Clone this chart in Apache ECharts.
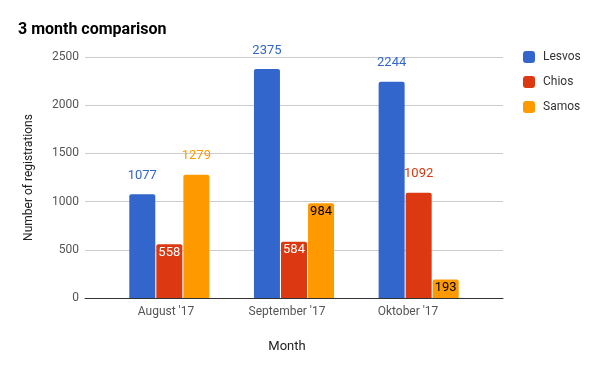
<!DOCTYPE html>
<html><head><meta charset="utf-8">
<script src="https://cdn.jsdelivr.net/npm/echarts@6/dist/echarts.min.js"></script>
<style>html,body{margin:0;padding:0;background:#fff}#c{width:600px;height:371px}</style>
</head><body><div id="c"></div>
<script>
const categories = ["August '17", "September '17", "Oktober '17"];
const lesvos = [1077, 2375, 2244];
const chios = [558, 584, 1092];
const samos = [1279, 984, 193];
const yTicks = [0, 500, 1000, 1500, 2000, 2500];
// label placement per value: true = inside bar top
const chiosInside = [true, true, false];
const samosInside = [false, true, true];

const colors = ['#3366cc', '#dc3912', '#ff9900'];
const FONT = 'Roboto';

function mkData(vals, insideFlags, color, insideColor) {
  return vals.map((v, i) => {
    const inside = insideFlags ? insideFlags[i] : false;
    return {
      value: v,
      label: inside
        ? { position: 'insideTop', distance: 2, color: insideColor }
        : { position: 'top', distance: 12, color: color }
    };
  });
}

const chart = echarts.init(document.getElementById('c'));
const barCommon = {
  type: 'bar', xAxisIndex: 1, yAxisIndex: 1,
  barWidth: 26, barGap: '4%',
  label: { show: true, fontFamily: FONT, fontSize: 13 }
};
chart.setOption({
  animation: false,
  textStyle: { fontFamily: FONT },
  title: {
    text: '3 month comparison', left: 13, top: 17,
    textStyle: { fontFamily: FONT, fontSize: 16, fontWeight: 'bold', color: '#000' }
  },
  legend: {
    orient: 'vertical', left: 523, top: 51, padding: 0,
    itemWidth: 12, itemHeight: 12, itemGap: 13,
    icon: 'roundRect',
    textStyle: { fontFamily: FONT, fontSize: 12, color: '#333', padding: [0, 0, 0, 3] },
    data: ['Lesvos', 'Chios', 'Samos']
  },
  grid: [
    { left: 85, right: 97, top: 57, bottom: 73 },
    { left: 107, right: 119, top: 57, bottom: 73 },
    { left: 105.5, right: 131.5, top: 57, bottom: 73 }
  ],
  xAxis: [
    { gridIndex: 0, type: 'category', data: [''],
      axisLine: { show: true, lineStyle: { color: '#333', width: 1 } },
      axisTick: { show: false }, axisLabel: { show: false }, splitLine: { show: false } },
    { gridIndex: 1, type: 'category', data: categories,
      axisLine: { show: false }, axisTick: { show: false }, axisLabel: { show: false } },
    { gridIndex: 2, type: 'category', data: categories,
      axisLine: { show: false }, axisTick: { show: false },
      axisLabel: { fontFamily: FONT, fontSize: 12, color: '#555', margin: 8 },
      name: 'Month', nameLocation: 'middle', nameGap: 42,
      nameTextStyle: { fontFamily: FONT, fontSize: 13, color: '#222' } }
  ],
  yAxis: [
    { gridIndex: 0, type: 'value', min: yTicks[0], max: yTicks[yTicks.length - 1], interval: 500,
      axisLine: { show: false }, axisTick: { show: false },
      axisLabel: { fontFamily: FONT, fontSize: 12, color: '#555', margin: 6,
        formatter: v => String(v) },
      splitLine: { lineStyle: { color: '#ccc' } },
      name: 'Number of registrations', nameLocation: 'middle', nameGap: 50,
      nameTextStyle: { fontFamily: FONT, fontSize: 12, color: '#222' } },
    { gridIndex: 1, type: 'value', min: 0, max: 2500, show: false },
    { gridIndex: 2, type: 'value', min: 0, max: 2500, show: false }
  ],
  series: [
    Object.assign({}, barCommon, { name: 'Lesvos', itemStyle: { color: colors[0], borderRadius: [2,2,0,0] },
      data: mkData(lesvos, null, colors[0], '#fff') }),
    Object.assign({}, barCommon, { name: 'Chios', itemStyle: { color: colors[1], borderRadius: [2,2,0,0] },
      data: mkData(chios, chiosInside, colors[1], '#fff') }),
    Object.assign({}, barCommon, { name: 'Samos', itemStyle: { color: colors[2], borderRadius: [2,2,0,0] },
      data: mkData(samos, samosInside, colors[2], '#000') })
  ]
});
</script></body></html>
